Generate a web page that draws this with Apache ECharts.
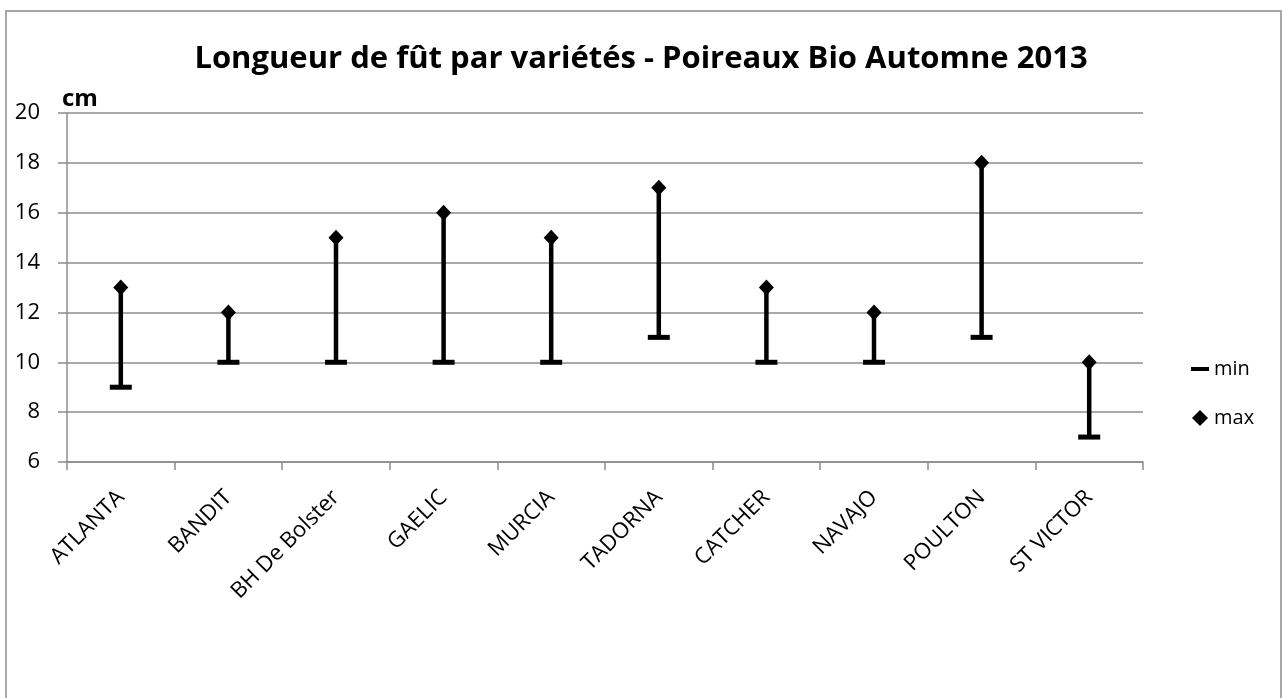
<!DOCTYPE html>
<html>
<head>
<meta charset="utf-8">
<script src="https://cdn.jsdelivr.net/npm/echarts@6/dist/echarts.min.js"></script>
<style>
  html, body { margin: 0; padding: 0; background: #fff; }
  #main { width: 1282px; height: 698px; }
</style>
</head>
<body>
<div id="main"></div>
<script>
// données
var varietes = ['ATLANTA', 'BANDIT', 'BH De Bolster', 'GAELIC', 'MURCIA', 'TADORNA', 'CATCHER', 'NAVAJO', 'POULTON', 'ST VICTOR'];
var minVals = [9, 10, 10, 10, 10, 11, 10, 10, 11, 7];
var maxVals = [13, 12, 15, 16, 15, 17, 13, 12, 18, 10];

var FONT = 'Open Sans';
var GRIS = '#8c8c8c';

var chart = echarts.init(document.getElementById('main'));

// segments min -> max
var barres = varietes.map(function (v, i) { return [i, minVals[i], maxVals[i]]; });

chart.setOption({
  backgroundColor: '#fff',
  animation: false,
  title: {
    text: 'Longueur de fût par variétés - Poireaux Bio Automne 2013',
    left: 'center',
    top: 39,
    textStyle: { fontFamily: FONT, fontWeight: 'bold', fontSize: 31, color: '#000' }
  },
  graphic: [{
    type: 'rect',
    shape: { x: 6, y: 11, width: 1275, height: 700 },
    style: { fill: 'none', stroke: GRIS, lineWidth: 1.5 },
    silent: true
  }],
  legend: {
    orient: 'vertical',
    left: 1186,
    top: 354,
    itemGap: 29,
    itemWidth: 18,
    itemHeight: 16,
    textStyle: { fontFamily: FONT, fontSize: 20, lineHeight: 20, color: '#000' },
    data: [
      { name: 'min', icon: 'path://M0,0 M0,6 L18,6 L18,10 L0,10 Z M18,16' },
      { name: 'max', icon: 'path://M0,0 M9,0 L17,8 L9,16 L1,8 Z M18,16' }
    ]
  },
  grid: { left: 67, right: 139, top: 113, bottom: 236 },
  xAxis: {
    type: 'category',
    data: varietes,
    boundaryGap: true,
    axisLine: { lineStyle: { color: GRIS, width: 1.5 } },
    axisTick: { show: true, length: 8, lineStyle: { color: GRIS, width: 1.5 } },
    axisLabel: { rotate: 45, interval: 0, margin: 32, fontFamily: FONT, fontSize: 22, color: '#000' }
  },
  yAxis: {
    type: 'value',
    min: 6, max: 20, interval: 2,
    name: 'cm',
    nameLocation: 'end',
    nameGap: 2,
    nameTextStyle: { fontFamily: FONT, fontWeight: 'bold', fontSize: 24, color: '#000', align: 'left', padding: [0, 0, 0, -5] },
    axisLine: { show: true, lineStyle: { color: GRIS, width: 1.5 } },
    axisTick: { show: true, length: 9, lineStyle: { color: GRIS, width: 1.5 } },
    splitLine: { lineStyle: { color: GRIS, width: 1.5 } },
    axisLabel: { margin: 27, fontFamily: FONT, fontSize: 22, color: '#000' }
  },
  series: [
    {
      name: 'plage',
      type: 'custom',
      data: barres,
      encode: { x: 0, y: [1, 2] },
      renderItem: function (params, api) {
        var bas = api.coord([api.value(0), api.value(1)]);
        var haut = api.coord([api.value(0), api.value(2)]);
        return {
          type: 'line',
          shape: { x1: bas[0], y1: bas[1], x2: haut[0], y2: haut[1] },
          style: { stroke: '#000', lineWidth: 4.5 }
        };
      },
      z: 2
    },
    {
      name: 'min',
      type: 'scatter',
      data: minVals,
      symbol: 'rect',
      symbolSize: [22, 5],
      itemStyle: { color: '#000', opacity: 1 },
      z: 3
    },
    {
      name: 'max',
      type: 'scatter',
      data: maxVals,
      symbol: 'diamond',
      symbolSize: [15, 16],
      itemStyle: { color: '#000', opacity: 1 },
      z: 3
    }
  ]
});
</script>
</body>
</html>
